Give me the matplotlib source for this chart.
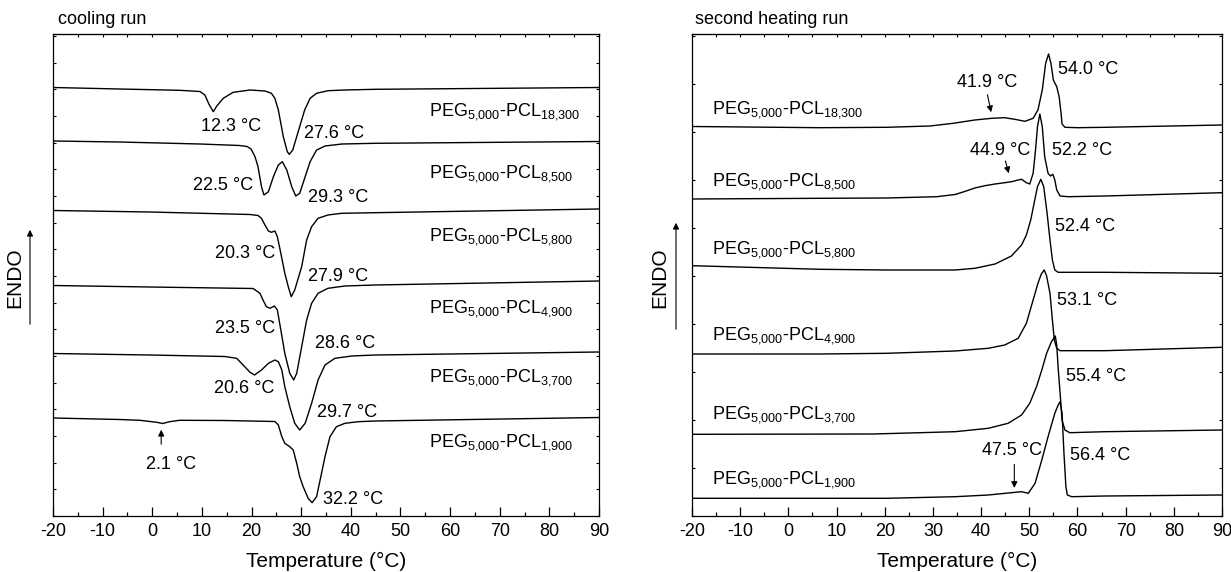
import matplotlib
matplotlib.use('Agg')
import matplotlib.pyplot as plt
from matplotlib.ticker import MultipleLocator

plt.rcParams['font.family'] = ['Liberation Sans', 'DejaVu Sans']
plt.rcParams['mathtext.fontset'] = 'custom'
plt.rcParams['mathtext.rm'] = 'Liberation Sans'
plt.rcParams['mathtext.it'] = 'Liberation Sans'
plt.rcParams['mathtext.default'] = 'regular'
plt.rcParams['axes.unicode_minus'] = False

# sample names (PCL block mass)
samples = ['18,300', '8,500', '5,800', '4,900', '3,700', '1,900']

# heat flow traces, arbitrary units (curves already offset)
# cooling run
cool_T_18300 = [-20, -6.6, 5.5, 9.6, 10.6, 11.4, 12.3, 13.0, 14.3, 16.3, 19.7, 22.7, 24.0, 24.7, 25.4,
                26.4, 27.2, 27.6, 28.3, 29.5, 30.7, 31.8, 33.1, 35.4, 38.8, 44.9, 90]
cool_y_18300 = [428.5, 427, 425.7, 424.5, 421, 412, 404.3, 410, 417.7, 423.7, 426, 425, 422.7, 417.7, 406,
                379.3, 364.3, 361.7, 366, 386, 406, 417.7, 422.7, 425.3, 426, 426.7, 428.5]

cool_T_8500 = [-20, -6.6, 9.6, 17.6, 19.1, 19.9, 20.7, 21.3, 22.0, 22.5, 23.4, 24.4, 25.4, 26.2, 27.1,
               28.1, 28.9, 29.7, 30.8, 31.8, 33.1, 34.8, 38.2, 44.9, 90]
cool_y_8500 = [375, 374, 372, 370.5, 369.5, 367, 359.3, 349.3, 329.3, 321, 324.3, 339.3, 351, 354.3, 346,
               329.3, 320, 322.7, 339.3, 354.3, 366, 370, 372, 372.7, 374.5]

cool_T_5800 = [-20, -0.5, 19.7, 21.3, 22.0, 22.7, 23.4, 24.0, 24.7, 25.2, 25.9, 26.7, 27.4, 28.0, 28.7,
               30.1, 31.1, 32.1, 33.4, 35.4, 38.1, 44.9, 90]
cool_y_5800 = [305.5, 304, 301.5, 300.5, 297.7, 291, 285, 283.7, 285, 279.3, 262.7, 242.7, 229.3, 219.3, 226,
               249.3, 276, 289.3, 297.7, 301, 302.7, 303.3, 307]

cool_T_4900 = [-20, -0.5, 20.3, 21.7, 22.3, 23.0, 23.7, 24.6, 25.2, 25.9, 26.7, 27.7, 28.5, 29.1, 30.1,
               31.1, 32.1, 33.4, 35.4, 38.8, 44.9, 90]
cool_y_4900 = [230.5, 229, 227.5, 222.7, 216, 209.3, 207.7, 210, 206, 186, 162.7, 142.7, 136, 142.7, 169.3,
               196, 212.7, 222.7, 227.7, 230, 231, 235]

cool_T_3700 = [-20, -0.5, 14.6, 17.0, 18.3, 19.7, 20.6, 22.0, 23.4, 24.7, 25.4, 26.1, 26.7, 27.7, 28.7,
               29.7, 30.8, 32.1, 33.4, 34.8, 36.8, 40.2, 44.9, 90]
cool_y_3700 = [162.5, 161, 159.5, 157.7, 151, 143.7, 141, 146, 152.7, 156, 154.3, 146, 129.3, 109.3, 92.7,
               86, 92.7, 112.7, 136, 151, 157.7, 160, 161, 164]

cool_T_1900 = [-20, -6.6, -2.5, 0.9, 2.1, 3.5, 5.5, 14.6, 24.7, 25.4, 26.1, 26.7, 27.7, 28.4, 29.1, 29.7,
               30.4, 31.4, 32.2, 33.1, 34.1, 34.8, 35.8, 37.1, 38.8, 41.5, 44.9, 90]
cool_y_1900 = [98, 96.5, 95.7, 93.7, 92.5, 94.3, 95.7, 95.5, 94.5, 91, 79.3, 72.7, 69.3, 66, 52.7, 39.3,
               29.3, 17.7, 13.3, 19.3, 42.7, 59.3, 79.3, 89.3, 92.7, 94.3, 95, 98.5]

# second heating run
heat_T_18300 = [-20, 6.6, 20.4, 29.4, 34.2, 38.7, 42.2, 44.9, 47.0, 49.1, 50.8, 51.8, 52.7, 53.4, 54.0,
                54.5, 55.0, 55.7, 56.2, 56.6, 56.8, 57.4, 60.1, 65.7, 90]
heat_y_18300 = [389.5, 388.3, 388.7, 390, 392.7, 396, 397.7, 398.3, 396.7, 394.7, 397.7, 406, 426, 452.7, 462,
                452.7, 436, 429.3, 419.3, 402.7, 392, 388.7, 388.3, 388.7, 391]

heat_T_8500 = [-20, 6.6, 20.4, 30.8, 34.6, 36.6, 38.7, 40.8, 42.9, 44.9, 46.3, 47.7, 48.4, 49.4, 50.1,
               50.8, 51.3, 51.7, 52.2, 52.7, 53.2, 53.9, 54.4, 54.9, 55.3, 55.7, 56.4, 58.1, 65.7, 90]
heat_y_8500 = [317, 317.7, 318, 319.3, 321.5, 324.5, 328, 330.3, 332, 333.3, 334.3, 336, 336.7, 333.3, 332,
               342.7, 366, 389.3, 402, 389.3, 359.3, 342.7, 340, 341.7, 336, 326, 320, 319.3, 320, 323.3]

heat_T_5800 = [-20, 6.6, 20.4, 34.6, 38.7, 42.9, 46.3, 48.4, 49.4, 50.3, 51.0, 51.7, 52.4, 53.0, 53.7,
               54.3, 54.8, 55.3, 56.0, 65.7, 90]
heat_y_5800 = [250.3, 246.7, 246, 246, 247.7, 252, 260, 271, 281, 296, 312.7, 329.3, 336.7, 329.3, 302.7,
               276, 256, 246, 243.7, 243.7, 242.7]

heat_T_4900 = [-20, 6.6, 20.4, 34.6, 41.5, 44.9, 47.7, 49.4, 50.8, 51.8, 52.5, 53.1, 53.6, 54.3, 54.8,
               55.2, 55.7, 56.4, 65.7, 90]
heat_y_4900 = [162, 162, 162.7, 165, 167.7, 171, 177.7, 192.7, 216, 232.7, 242, 246, 240, 222.7, 196,
               176, 167.7, 165.3, 165.3, 168.7]

heat_T_3700 = [-20, 17.6, 27.3, 34.6, 41.5, 45.6, 48.4, 50.1, 51.5, 52.6, 53.6, 54.6, 55.4, 55.7, 56.0,
               56.4, 56.8, 57.4, 58.4, 65.7, 90]
heat_y_3700 = [81.7, 82, 83.3, 84.3, 87.7, 92.7, 101, 112.7, 129.3, 146, 162.7, 174.3, 180, 171, 147.7,
               122.7, 96, 86, 83.3, 84.3, 86]

heat_T_1900 = [-20, 20.4, 34.6, 41.5, 46.3, 48.4, 49.8, 51.2, 52.6, 53.9, 55.3, 56.0, 56.4, 56.8, 57.2,
               57.6, 57.9, 58.8, 65.7, 90]
heat_y_1900 = [17.7, 17.7, 19.3, 21, 23.3, 24.3, 22.7, 32.7, 56, 79.3, 102.7, 111, 114.3, 102.7, 62.7,
               29.3, 21, 19.3, 20, 21]

cool_curves = [(cool_T_18300, cool_y_18300), (cool_T_8500, cool_y_8500), (cool_T_5800, cool_y_5800),
               (cool_T_4900, cool_y_4900), (cool_T_3700, cool_y_3700), (cool_T_1900, cool_y_1900)]
heat_curves = [(heat_T_18300, heat_y_18300), (heat_T_8500, heat_y_8500), (heat_T_5800, heat_y_5800),
               (heat_T_4900, heat_y_4900), (heat_T_3700, heat_y_3700), (heat_T_1900, heat_y_1900)]

FS = 13


def sample_label(name):
    return 'PEG$_{5{,}000}$-PCL$_{' + name.replace(',', '{,}') + '}$'


def style_axes(ax, ystep):
    ax.set_xlim(-20, 90)
    ax.set_ylim(0, 482)
    ax.xaxis.set_major_locator(MultipleLocator(10))
    ax.xaxis.set_minor_locator(MultipleLocator(5))
    ax.yaxis.set_major_locator(MultipleLocator(ystep))
    ax.tick_params(axis='x', which='major', direction='in', length=6.5, width=0.9, labelsize=FS, pad=5)
    ax.tick_params(axis='x', which='minor', direction='in', length=3, width=0.9)
    ax.tick_params(axis='y', which='major', direction='in', length=2.5, width=0.8, right=True,
                   labelleft=False)
    top = ax.secondary_xaxis('top')
    top.xaxis.set_major_locator(MultipleLocator(5))
    top.tick_params(direction='in', length=2.5, width=0.8, labeltop=False)
    for s in ax.spines.values():
        s.set_linewidth(0.9)
    ax.set_xlabel('Temperature (°C)', fontsize=15, va='center')
    ax.xaxis.set_label_coords(0.5, -0.095)


fig = plt.figure(figsize=(12.31, 5.72), dpi=100)
ax1 = fig.add_axes([53 / 1231, 56 / 572, 546 / 1231, 482 / 572])
ax2 = fig.add_axes([692 / 1231, 56 / 572, 530 / 1231, 482 / 572])

# cooling run
for T, y in cool_curves:
    ax1.plot(T, y, color='black', lw=1.0)
style_axes(ax1, 26.67)

for name, yb in zip(samples, [401, 338.7, 275.3, 203.7, 134.3, 69.3]):
    ax1.text(55.7, yb, sample_label(name), fontsize=FS, va='baseline')

cool_notes = [('12.3 °C', 9.9, 385.3), ('27.6 °C', 30.5, 377.7),
              ('22.5 °C', 8.3, 326), ('29.3 °C', 31.4, 314.3),
              ('20.3 °C', 12.7, 257.7), ('27.9 °C', 31.4, 235.3),
              ('23.5 °C', 12.7, 183.3), ('28.6 °C', 32.8, 167.7),
              ('20.6 °C', 12.5, 122.7), ('29.7 °C', 33.2, 99.3),
              ('2.1 °C', -1.3, 46.7), ('32.2 °C', 34.4, 11.5)]
for txt, x, y in cool_notes:
    ax1.text(x, y, txt, fontsize=FS, va='baseline')
ax1.annotate('', xy=(1.8, 89), xytext=(1.8, 69),
             arrowprops=dict(arrowstyle='-|>', color='black', lw=0.8, mutation_scale=9))

# second heating run
for T, y in heat_curves:
    ax2.plot(T, y, color='black', lw=1.0)
style_axes(ax2, 48)

for name, yb in zip(samples, [402.7, 331, 262, 176, 97.7, 32.7]):
    ax2.text(-15.9, yb, sample_label(name), fontsize=FS, va='baseline')

heat_notes = [('54.0 °C', 55.9, 442), ('41.9 °C', 35.0, 429.3),
              ('52.2 °C', 54.7, 361), ('44.9 °C', 37.7, 361),
              ('52.4 °C', 55.3, 285.3), ('53.1 °C', 55.7, 211),
              ('55.4 °C', 57.6, 135.3), ('47.5 °C', 40.1, 61),
              ('56.4 °C', 58.4, 56)]
for txt, x, y in heat_notes:
    ax2.text(x, y, txt, fontsize=FS, va='baseline')
for tail, head in [((41.2, 424), (42.2, 401)), ((44.9, 357.7), (45.9, 340)), ((46.9, 54.3), (46.9, 25.3))]:
    ax2.annotate('', xy=head, xytext=tail,
                 arrowprops=dict(arrowstyle='-|>', color='black', lw=0.8, mutation_scale=9))

# panel titles and ENDO markers
fig.text(58.5 / 1231, 1 - 23.5 / 572, 'cooling run', fontsize=FS, va='baseline')
fig.text(695 / 1231, 1 - 23.5 / 572, 'second heating run', fontsize=FS, va='baseline')
for xt, xa, y0, y1 in [(15, 30, 245, 345), (660, 676, 240, 352)]:
    fig.text(xt / 1231, (572 - 277.6) / 572, 'ENDO', fontsize=15, rotation=90, ha='center', va='center')
    fig.add_artist(matplotlib.patches.FancyArrowPatch((xa, y0), (xa, y1), transform=None,
                                                     arrowstyle='-|>', mutation_scale=9,
                                                     color='black', lw=0.8))

plt.savefig('out.png', dpi=100)
plt.close()
